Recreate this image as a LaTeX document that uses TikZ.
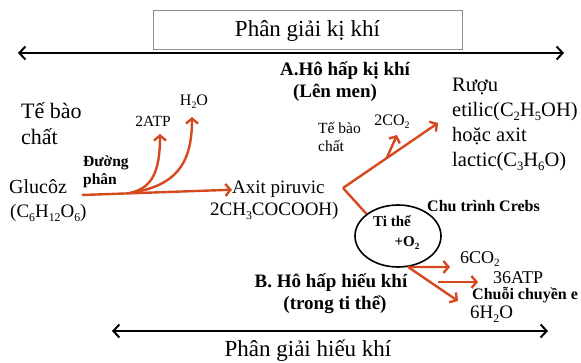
\documentclass[tikz,border=0pt]{standalone}
\usepackage{fontspec}
\setmainfont{Liberation Serif}
\usetikzlibrary{arrows.meta,shapes.geometric}
\definecolor{arrowred}{RGB}{214,72,30}
\newcommand{\fsz}[2]{\fontsize{#1}{#2}\selectfont}
\newcommand{\chemsub}[1]{\raisebox{-0.35ex}{\scalebox{0.62}{#1}}}

\begin{document}
\begin{tikzpicture}[x=1pt,y=-1pt,
  txt/.style={inner sep=0pt,anchor=base west},
  ctxt/.style={inner sep=0pt,anchor=base},
  redline/.style={draw=arrowred,line width=2.4pt},
  redarr/.style={redline,-{Straight Barb[length=5pt,width=12pt]}},
  bigarr/.style={line width=2pt,{Straight Barb[length=6pt,width=13pt]}-{Straight Barb[length=6pt,width=13pt]}}]
\useasboundingbox (0,0) rectangle (581,363);

\node[draw=black!45,line width=1pt,minimum width=309pt,minimum height=39pt,inner sep=0pt,font=\fsz{23}{26}] (kibox) at (307.5,30.5) {Phân giải kị khí};
\coordinate (kiL) at (18,53);
\coordinate (kiR) at (564,53);
\draw[bigarr] (kiL) -- (kiR);

\node[ctxt,font=\fsz{19}{22}\bfseries] (hhk1) at (345,76) {A.Hô hấp kị khí};
\node[ctxt,font=\fsz{19}{22}\bfseries] (hhk2) at (335,98) {(Lên men)};

\node[txt,font=\fsz{22}{25}] (tbc1) at (21,119) {Tế bào};
\node[txt,font=\fsz{22}{25}] (tbc2) at (21,145) {chất};
\node[txt,font=\fsz{20}{23}] (glu1) at (9,194) {Glucôz};
\node[txt,font=\fsz{19}{22}] (glu2) at (10,218) {(C\chemsub{6}H\chemsub{12}O\chemsub{6})};
\node[txt,font=\fsz{15.5}{18}\bfseries] (dp1) at (83,167) {Đường};
\node[txt,font=\fsz{15.5}{18}\bfseries] (dp2) at (83,185) {phân};
\node[ctxt,font=\fsz{15.5}{18}] (atp) at (153,127) {2ATP};
\node[ctxt,font=\fsz{16}{18}] (nuoc) at (194,106) {H\chemsub{2}O};

\node[txt,font=\fsz{19}{22}] (axit) at (232,194) {Axit piruvic};
\node[txt,font=\fsz{19}{22}] (axit2) at (210,216) {2CH\chemsub{3}COCOOH)};

\node[txt,font=\fsz{15.5}{18}] (tbn1) at (318,134) {Tế bào};
\node[txt,font=\fsz{15.5}{18}] (tbn2) at (318,152) {chất};
\node[ctxt,font=\fsz{16}{18}] (co2) at (392,126) {2CO\chemsub{2}};

\node[txt,font=\fsz{20.5}{25}] (ruou1) at (452,92) {Rượu};
\node[txt,font=\fsz{20.5}{25}] (ruou2) at (452,117) {etilic(C\chemsub{2}H\chemsub{5}OH)};
\node[txt,font=\fsz{20.5}{25}] (ruou3) at (452,142) {hoặc axit};
\node[txt,font=\fsz{20.5}{25}] (ruou4) at (452,167) {lactic(C\chemsub{3}H\chemsub{6}O)};

% ti the
\node[draw,ellipse,line width=1.6pt,minimum width=86pt,minimum height=62pt,inner sep=0pt] (tithe) at (398,236) {};
\node[ctxt,font=\fsz{15}{18}\bfseries] (tt1) at (392,227) {Ti thể};
\node[ctxt,font=\fsz{15}{18}\bfseries] (tt2) at (407,247) {+O\chemsub{2}};
\node[txt,font=\fsz{16}{18}\bfseries] (crebs) at (427,212) {Chu trình Crebs};

\node[txt,font=\fsz{18}{21}] (co6) at (460,264) {6CO\chemsub{2}};
\node[txt,font=\fsz{18}{21}] (atp36) at (493,284) {36ATP};
\node[txt,font=\fsz{16}{18}\bfseries] (chuoi) at (472,300) {Chuỗi chuyền e};
\node[txt,font=\fsz{19}{22}] (h2o6) at (470,319) {6H\chemsub{2}O};

\node[ctxt,font=\fsz{19}{22}\bfseries] (hhh1) at (331,288) {B. Hô hấp hiếu khí};
\node[ctxt,font=\fsz{19}{22}\bfseries] (hhh2) at (335,309) {(trong ti thể)};

\coordinate (hieuL) at (112,331);
\coordinate (hieuR) at (548,331);
\draw[bigarr] (hieuL) -- (hieuR);
\node[ctxt,font=\fsz{23}{26}] (hieubox) at (308,356) {Phân giải hiếu khí};

% duong phan
\coordinate (gstart) at (82,195);
\coordinate (fork) at (130,193);
\coordinate (atptip) at (160,134);
\coordinate (nuoctip) at (192,117);
\draw[redarr] (gstart) -- (axit.west);
\draw[redarr] (fork) .. controls (152,188) and (160,172) .. (atptip);
\draw[redarr] (fork) .. controls (175,186) and (192,165) .. (nuoctip);

% len men
\coordinate (pbend) at (343,188);
\coordinate (rtip) at (438,123);
\coordinate (co2tip) at (397,135);
\draw[redline] (tithe.145) -- (pbend);
\draw[redarr] (pbend) -- coordinate[pos=0.46] (cbr) (rtip);
\draw[redarr] (cbr) -- (co2tip);

% hieu khi
\coordinate (co6tip) at (450,267);
\coordinate (atpA) at (438,282);
\coordinate (atpB) at (478,282);
\coordinate (h2otip) at (458,301);
\draw[redarr] (tithe.-72) -- (co6tip);
\draw[redarr] (atpA) -- (atpB);
\draw[redarr] (tithe.-72) -- (h2otip);
\end{tikzpicture}
\end{document}
